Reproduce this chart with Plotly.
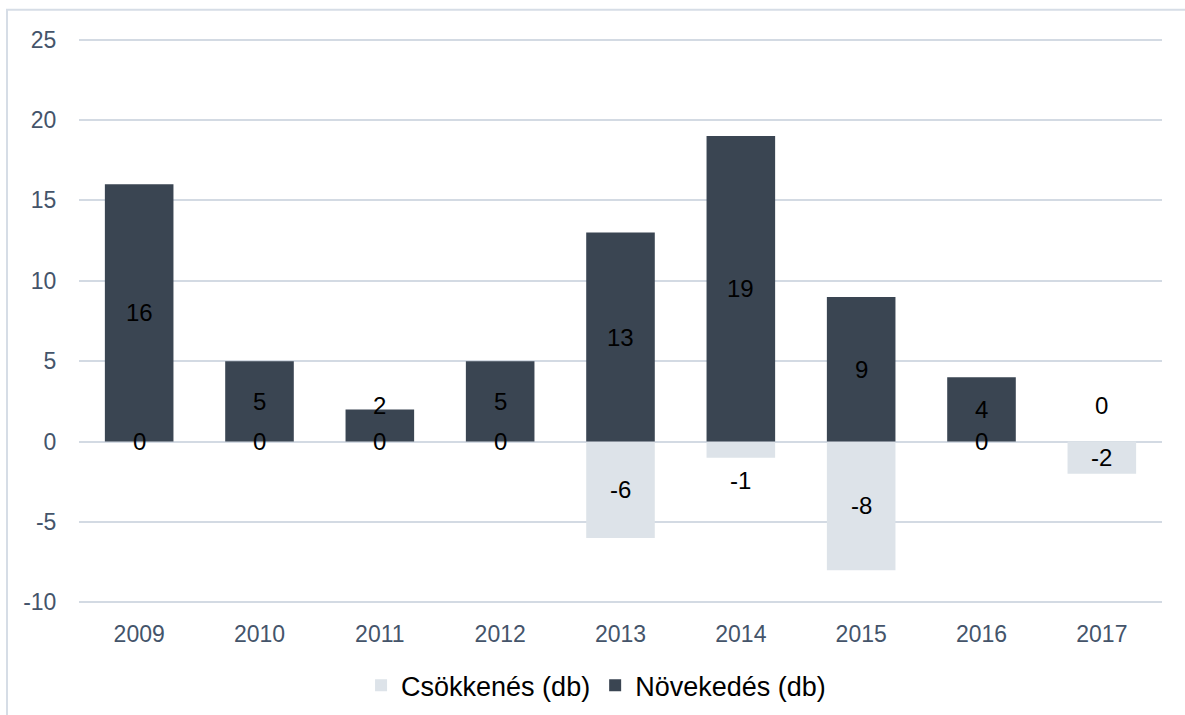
import plotly.graph_objects as go

years = ["2009", "2010", "2011", "2012", "2013", "2014", "2015", "2016", "2017"]
csokkenes = [0, 0, 0, 0, -6, -1, -8, 0, -2]
novekedes = [16, 5, 2, 5, 13, 19, 9, 4, 0]
y_ticks = [-10, -5, 0, 5, 10, 15, 20, 25]
y_tick_text = ["-10", "-5", "0", "5", "10", "15", "20", "25"]

# label offsets (pixel shifts) where the chart moved labels to avoid overlap
csok_shift = [0, 0, 0, 0, 0, -31, 0, 0, 0]
nov_shift = [0, 0, 20, 0, 0, 0, 0, 0, 36]

DARK = "#3a4552"
LIGHT = "#dde3e9"
GRID = "#d3dae3"
TICK = "#44546a"
FONT = "Liberation Sans, Arial, sans-serif"

fig = go.Figure()
fig.add_trace(go.Bar(x=years, y=csokkenes, name="Csökkenés (db)", marker_color=LIGHT,
                     marker_line_width=0))
fig.add_trace(go.Bar(x=years, y=novekedes, name="Növekedés (db)", marker_color=DARK,
                     marker_line_width=0))

annotations = []
for i, (v, s) in enumerate(zip(csokkenes, csok_shift)):
    annotations.append(dict(x=i, y=v / 2, text=str(v), showarrow=False, yshift=s,
                            font=dict(family=FONT, size=24, color="#000000")))
for i, (v, s) in enumerate(zip(novekedes, nov_shift)):
    annotations.append(dict(x=i, y=v / 2, text=str(v), showarrow=False, yshift=s,
                            font=dict(family=FONT, size=24, color="#000000")))

# plot area: y=25 at 40px, y=-10 at 602px; range padded 0.1 so edge gridlines show
fig.update_layout(
    width=1185, height=715,
    margin=dict(l=79, r=23, t=38.4, b=111.4, autoexpand=False),
    barmode="relative",
    bargap=0.43,
    plot_bgcolor="white",
    paper_bgcolor="white",
    font=dict(family=FONT, color=TICK),
    annotations=annotations,
    showlegend=True,
    legend=dict(orientation="h", xref="container", yref="container",
                x=0.503, xanchor="center", y=0.041, yanchor="middle",
                font=dict(family=FONT, size=27, color="#000000"), traceorder="normal"),
    shapes=[dict(type="rect", xref="paper", yref="paper", x0=-0.0665, x1=1.2,
                 y0=-0.4, y1=1.05, line=dict(color="#d6dde6", width=2),
                 fillcolor="rgba(0,0,0,0)", layer="below")],
)
fig.update_xaxes(type="category", range=[-0.5, 8.5], showgrid=False, showline=False,
                 zeroline=False, ticks="outside", ticklen=9, tickcolor="rgba(0,0,0,0)",
                 tickfont=dict(family=FONT, size=23, color=TICK), automargin=False)
fig.update_yaxes(range=[-10.1, 25.1], tickvals=y_ticks, ticktext=y_tick_text,
                 showgrid=True, gridcolor=GRID, gridwidth=2, zeroline=False, showline=False,
                 ticks="outside", ticklen=17, tickcolor="rgba(0,0,0,0)",
                 tickfont=dict(family=FONT, size=23, color=TICK), automargin=False)

fig.write_html("out.html", config={"displayModeBar": False},
               post_script="document.body.style.margin='0px';document.body.style.overflow='hidden';")
